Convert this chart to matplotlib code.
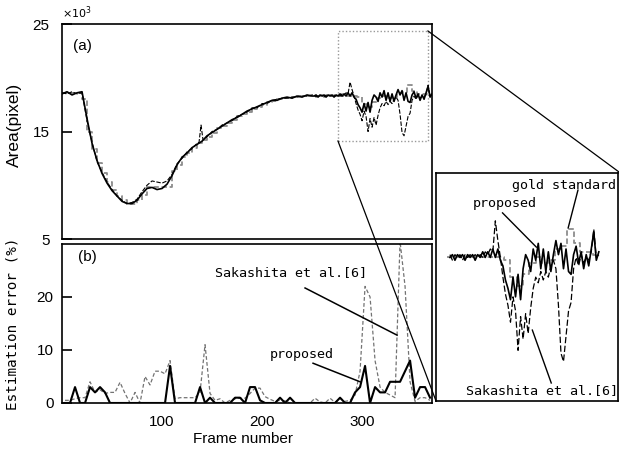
import numpy as np
import matplotlib
matplotlib.use("Agg")
import matplotlib.pyplot as plt
from matplotlib import font_manager
from matplotlib.lines import Line2D
from matplotlib.patches import Rectangle

# ---- data: area (x10^3 pixel) ----
frames = np.r_[np.arange(0, 251, 5), np.arange(252, 371, 2)]
proposed = [
    18.5, 18.7, 18.4, 18.6, 18.7, 16.2, 13.9, 12.3, 11.1, 10.2, 9.5,
    9.0, 8.5, 8.3, 8.3, 8.6, 9.2, 9.7, 9.8, 9.6, 9.7,
    10.1, 10.9, 11.9, 12.6, 13.0, 13.5, 13.8, 14.1, 14.6, 14.9,
    15.2, 15.5, 15.8, 16.1, 16.3, 16.6, 16.9, 17.1, 17.3, 17.5,
    17.7, 17.9, 17.9, 18.1, 18.2, 18.1, 18.3, 18.2, 18.4, 18.3,
    # 252..370 every 2 frames
    18.3, 18.4, 18.2, 18.4, 18.3, 18.4, 18.2, 18.4, 18.3, 18.4,
    18.2, 18.4, 18.3, 18.5, 18.3, 18.5, 18.3, 18.6, 18.3, 18.6,
    18.2, 18.0, 17.5, 17.2, 16.8, 17.6, 16.9, 17.7, 16.8, 17.9,
    18.4, 18.2, 17.8, 18.6, 18.2, 18.8, 17.9, 18.6, 17.8, 18.5,
    17.8, 18.4, 18.9, 18.4, 18.8, 17.9, 18.6, 17.8, 17.7, 18.4,
    18.7, 18.1, 18.5, 17.9, 18.4, 18.0, 18.6, 19.2, 18.2, 18.5,
]
sak_frames = np.r_[np.arange(0, 136, 5), [137, 139, 141], np.arange(145, 251, 5),
                   np.arange(252, 371, 2)]
sakashita = [
    18.6, 18.5, 18.7, 18.5, 18.6, 16.0, 14.0, 12.2, 11.2, 10.3, 9.6,
    9.0, 8.6, 8.3, 8.4, 8.7, 9.4, 10.0, 10.4, 10.3, 10.2,
    10.4, 11.0, 12.0, 12.5, 13.1, 13.4, 13.9, 14.0, 15.6, 14.2, 14.5, 15.0,
    15.2, 15.6, 15.8, 16.0, 16.4, 16.6, 16.8, 17.2, 17.2, 17.6,
    17.6, 17.9, 18.0, 18.1, 18.1, 18.2, 18.2, 18.3, 18.3, 18.4,
    # 252..370 every 2 frames
    18.4, 18.2, 18.4, 18.3, 18.4, 18.2, 18.4, 18.3, 18.4, 18.3,
    18.4, 18.3, 18.4, 18.3, 18.5, 18.4, 18.6, 18.5, 19.6, 18.9,
    18.3, 17.6, 17.0, 16.6, 16.0, 16.9, 16.4, 15.0, 16.2, 15.4,
    16.3, 15.6, 16.5, 17.2, 17.6, 17.4, 17.8, 17.5, 17.8, 17.6,
    18.0, 18.2, 17.9, 16.6, 14.9, 14.6, 15.5, 16.4, 16.7, 17.9,
    18.3, 18.0, 18.4, 18.1, 18.3, 18.2, 18.5, 19.3, 18.3, 18.4,
]
gold_frames = np.arange(0, 371, 5)
gold = [
    18.6, 18.6, 18.6, 18.6, 18.0, 15.0, 13.4, 12.1, 11.1, 10.3, 9.6,
    9.0, 8.6, 8.3, 8.3, 8.6, 9.1, 9.8, 9.8, 9.8, 9.8,
    9.8, 11.3, 11.9, 12.6, 13.0, 13.5, 13.9, 14.2, 14.5, 14.9,
    15.3, 15.5, 15.8, 16.1, 16.4, 16.6, 16.8, 17.1, 17.3, 17.5,
    17.7, 17.8, 18.0, 18.1, 18.1, 18.2, 18.3, 18.3, 18.3, 18.3,
    18.3, 18.3, 18.3, 18.3, 18.3, 18.3, 18.3, 18.3, 18.2, 17.6,
    17.3, 17.7, 18.1, 18.3, 18.1, 18.2, 18.6, 18.7, 19.3, 18.8,
    18.5, 18.5, 18.4, 18.4,
]

# ---- data: estimation error (%) ----
err_frames = np.arange(3, 370, 5)
err_proposed = [
    0, 0, 3, 0, 0, 3, 2, 3, 2, 0,
    0, 0, 0, 0, 0, 0, 0, 0, 0, 0,
    0, 7, 0, 0, 0, 0, 0, 3, 0, 1,
    0, 0, 0, 0, 1, 1, 0, 3, 3, 0.5,
    0, 0, 0, 1, 0, 1, 0, 0, 0, 0,
    0, 0, 0, 0, 0, 1, 0, 0, 2, 3,
    7, 0, 3, 2, 2, 4, 4, 4, 6, 8,
    1, 3, 3, 1,
]
err_sakashita = [
    0.5, 0.5, 0.8, 1.0, 1.0, 4.0, 2.0, 2.5, 1.8, 2.0,
    2.0, 3.9, 1.8, 0, 2.0, 0, 5.0, 3.4, 6.0, 6.0,
    5.5, 8.0, 0.8, 1.0, 1.0, 1.0, 1.0, 2.0, 11.0, 1.8,
    0.5, 0.8, 0, 0.5, 0.8, 0.9, 0.9, 1.8, 2.8, 2.8,
    1.2, 0.7, 0.3, 0.5, 0.4, 0, 0, 0, 0, 0,
    0.9, 0.2, 0, 0.9, 0.1, 0.9, 0.3, 0.5, 1.5, 6.0,
    22.0, 20.0, 8.0, 3.0, 2.0, 1.5, 1.0, 30.5, 22.0, 4.0,
    0.3, 1.0, 1.0, 0.5,
]

names = {f.name for f in font_manager.fontManager.ttflist}
narrow = "Liberation Sans Narrow" if "Liberation Sans Narrow" in names else "Liberation Sans"
mono = "DejaVu Sans Mono"
plt.rcParams["font.family"] = "Liberation Sans"

fig = plt.figure(figsize=(6.19, 4.53), dpi=100)
ax_a = fig.add_axes([0.1002, 0.4724, 0.5978, 0.4746])
ax_b = fig.add_axes([0.1002, 0.1104, 0.5978, 0.3510])
ax_z = fig.add_axes([0.7044, 0.1148, 0.2936, 0.5033])

gold_col = "0.55"

# (a) area
ax_a.plot(gold_frames, gold, color=gold_col, lw=1.3, ls=(0, (3, 1.5)), drawstyle="steps-post")
ax_a.plot(sak_frames, sakashita, color="k", lw=0.8, ls=(0, (4, 1.5)))
ax_a.plot(frames, proposed, color="k", lw=1.2)
ax_a.set_xlim(0, 370)
ax_a.set_ylim(5, 25)
ax_a.set_yticks([5, 15, 25])
ax_a.set_xticks([])
ax_a.tick_params(axis="y", direction="in", length=7, width=1.2, pad=9, labelsize=11)
for lab in ax_a.get_yticklabels():
    lab.set_family(narrow)
ax_a.set_ylabel("Area(pixel)", fontsize=12.5)
ax_a.yaxis.set_label_coords(-0.108, 0.53)
ax_a.text(0.0, 1.012, r"$\times10^3$", transform=ax_a.transAxes, fontsize=8, va="bottom")
ax_a.text(0.03, 0.90, "(a)", transform=ax_a.transAxes, fontsize=11, family=narrow, va="center")
ax_a.add_patch(Rectangle((276, 14.1), 90, 10.25, fill=False, ec="0.6", lw=1.0, ls=(0, (1, 1.5))))

# (b) estimation error
ax_b.plot(err_frames, err_sakashita, color="0.45", lw=0.9, ls=(0, (3, 1.8)))
ax_b.plot(err_frames, err_proposed, color="k", lw=1.5)
ax_b.set_xlim(0, 370)
ax_b.set_ylim(0, 30)
ax_b.set_yticks([0, 10, 20])
ax_b.set_xticks([100, 200, 300])
ax_b.tick_params(axis="y", direction="in", length=7, width=1.2, pad=6, labelsize=11)
ax_b.tick_params(axis="x", length=0, pad=9, labelsize=11)
for lab in ax_b.get_yticklabels() + ax_b.get_xticklabels():
    lab.set_family(narrow)
ax_b.set_ylabel("Estimation error (%)", family=mono, fontsize=10.3)
ax_b.yaxis.set_label_coords(-0.116, 0.5)
ax_b.set_xlabel("Frame number", fontsize=11)
ax_b.xaxis.set_label_coords(0.49, -0.18)
ax_b.text(0.043, 0.918, "(b)", transform=ax_b.transAxes, fontsize=11, family=narrow, va="center")
ax_b.text(229, 24.7, "Sakashita et al.[6]", family=mono, fontsize=9.6, ha="center", va="center")
ax_b.plot([243, 335], [21.7, 12.8], color="k", lw=1.1)
ax_b.text(240, 9.1, "proposed", family=mono, fontsize=9.6, ha="center", va="center")
ax_b.plot([251, 298], [7.5, 4.0], color="k", lw=1.1)

# zoomed view
sel = frames >= 252
ssel = sak_frames >= 252
gsel = gold_frames >= 250
ax_z.plot(gold_frames[gsel], np.array(gold)[gsel], color=gold_col, lw=1.3,
          ls=(0, (3, 1.5)), drawstyle="steps-post")
ax_z.plot(sak_frames[ssel], np.array(sakashita)[ssel], color="k", lw=0.9, ls=(0, (5, 2)))
ax_z.plot(frames[sel], np.array(proposed)[sel], color="k", lw=1.2)
ax_z.set_xlim(241, 385)
ax_z.set_ylim(13.2, 21.3)
ax_z.set_xticks([])
ax_z.set_yticks([])
for s in ax_z.spines.values():
    s.set_linewidth(1.2)
ax_z.text(0.705, 0.947, "gold standard", transform=ax_z.transAxes, family=mono,
          fontsize=9.6, ha="center", va="center")
ax_z.plot([0.781, 0.727], [0.925, 0.759], transform=ax_z.transAxes, color="k", lw=1.0)
ax_z.text(0.377, 0.868, "proposed", transform=ax_z.transAxes, family=mono,
          fontsize=9.6, ha="center", va="center")
ax_z.plot([0.366, 0.552], [0.825, 0.675], transform=ax_z.transAxes, color="k", lw=1.0)
ax_z.text(0.585, 0.048, "Sakashita et al.[6]", transform=ax_z.transAxes, family=mono,
          fontsize=9.6, ha="center", va="center")
ax_z.plot([0.634, 0.530], [0.079, 0.311], transform=ax_z.transAxes, color="k", lw=1.0)

for ax in (ax_a, ax_b):
    for s in ax.spines.values():
        s.set_linewidth(1.2)

# connector lines from the dotted box to the zoomed view
fig.add_artist(Line2D([0.6914, 1.0], [0.9316, 0.6203], transform=fig.transFigure, color="k", lw=0.9))
fig.add_artist(Line2D([0.5460, 0.7044], [0.6887, 0.1148], transform=fig.transFigure, color="k", lw=0.9))

fig.savefig("out.png", dpi=100)
